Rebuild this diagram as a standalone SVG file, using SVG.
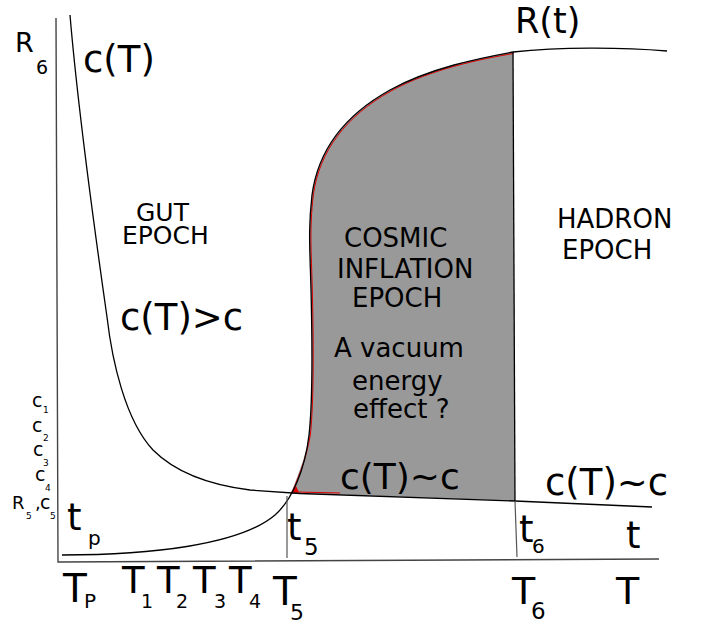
<svg xmlns="http://www.w3.org/2000/svg" width="705" height="627" viewBox="0 0 705 627">
<style>
text{font-family:"DejaVu Sans","Liberation Sans",sans-serif;fill:#000}
.big{font-size:37px}
.mid{font-size:26px}
.sub{font-size:20px}
.cl{font-size:19px}
.tiny{font-size:9px}
.axis{fill:none;stroke:#444;stroke-width:1.4}
.curve{fill:none;stroke:#000;stroke-width:1.3}
.vline{fill:none;stroke:#555;stroke-width:1.2}
</style>
<rect width="705" height="627" fill="#fff"/>
<g id="inflation-region">
<path d="M290,494 L293,488 C300,470 306,455 309,435 C313,400 312,330 311,290 C310,250 308,230 312,195 C318,150 345,115 390,90 C430,68 480,58 513,52 L515,501 L300,493 Z" fill="#999"/>
<path d="M291.5,494 C301,471 307,455 310.3,435 C314.3,400 313.3,330 312.3,290 C311.3,250 309.3,230 313.3,195 C319.3,151 346,116 391,91 C431,69 481,59 513.5,53.5" fill="none" stroke="#e00000" stroke-width="1"/>
<path d="M291,493 L296,486 L299,492.5 Z" fill="#e00000"/>
<path d="M297,492 L340,493" fill="none" stroke="#e00000" stroke-width="1"/>
</g>
<g id="connectors">
<path class="axis" d="M56,18 L58,562 L659,559"/>
<path class="curve" d="M62,555 C150,555 240,545 275,515 C292,500 305,470 309,435 C313,400 312,330 311,290 C310,250 308,230 312,195 C318,150 345,115 390,90 C430,68 480,58 513,52 C560,47 620,47 667,51"/>
<path class="curve" d="M70,15 C78,110 96,240 107,317 C112,360 125,420 153,450 C175,472 210,485 250,490 L300,493.5 L515,501 L652,507"/>
<path class="vline" d="M287,496 L287,558"/>
<path class="curve" d="M513,52 L515,501"/>
<path class="vline" d="M515,501 L517,557"/>
</g>
<g id="y-labels">
<text x="15" y="52" style="font-size:27px">R<tspan x="36" y="74" style="font-size:19px">6</tspan></text>
<text x="32" y="407" class="cl">c<tspan x="43" y="413" class="tiny">1</tspan></text>
<text x="32" y="432" class="cl">c<tspan x="43" y="441" class="tiny">2</tspan></text>
<text x="33" y="456" class="cl">c<tspan x="43" y="466" class="tiny">3</tspan></text>
<text x="35" y="481" class="cl">c<tspan x="45" y="491" class="tiny">4</tspan></text>
<text x="12" y="509" style="font-size:18px">R<tspan x="26" y="519" class="tiny">5</tspan><tspan x="35" y="509">,</tspan><tspan x="40" y="509" class="cl">c</tspan><tspan x="50" y="519" class="tiny">5</tspan></text>
</g>
<g id="curve-labels">
<text x="83" y="72" class="big">c(T)</text>
<text x="515" y="33" style="font-size:35px">R(t)</text>
</g>
<g id="gut-epoch">
<text x="136" y="221" style="font-size:25px">GUT</text>
<text x="122" y="244" style="font-size:25px">EPOCH</text>
<text x="120" y="330" class="big">c(T)&gt;c</text>
</g>
<g id="cosmic-inflation-epoch">
<text x="344" y="247" class="mid">COSMIC</text>
<text x="337" y="278" class="mid">INFLATION</text>
<text x="352" y="307" class="mid">EPOCH</text>
<text x="334" y="357" class="mid">A vacuum</text>
<text x="352" y="390" class="mid">energy</text>
<text x="353" y="418" class="mid">effect ?</text>
<text x="340" y="489" style="font-size:36px">c(T)~c</text>
</g>
<g id="hadron-epoch">
<text x="557" y="228" class="mid">HADRON</text>
<text x="562" y="259" class="mid">EPOCH</text>
<text x="545" y="495" class="big">c(T)~c</text>
</g>
<g id="t-labels">
<text x="67" y="530" class="big">t<tspan x="88" y="545" class="sub">p</tspan></text>
<text x="287" y="540" class="big">t<tspan x="304" y="555" style="font-size:23px">5</tspan></text>
<text x="519" y="542" class="big">t<tspan x="532" y="553" class="sub">6</tspan></text>
<text x="626" y="548" class="big">t</text>
</g>
<g id="T-labels">
<text x="63" y="602" style="font-size:39px">T<tspan x="84" y="608" class="sub">P</tspan></text>
<text x="122" y="593" class="big">T<tspan x="141" y="608" style="font-size:19px">1</tspan></text>
<text x="157" y="593" class="big">T<tspan x="176" y="608" style="font-size:19px">2</tspan></text>
<text x="193" y="593" class="big">T<tspan x="214" y="608" style="font-size:19px">3</tspan></text>
<text x="229" y="593" class="big">T<tspan x="249" y="608" style="font-size:19px">4</tspan></text>
<text x="273" y="605" style="font-size:39px">T<tspan x="290" y="620" style="font-size:22px">5</tspan></text>
<text x="512" y="604" style="font-size:38px">T<tspan x="531" y="619" style="font-size:23px">6</tspan></text>
<text x="616" y="604" style="font-size:38px">T</text>
</g>
</svg>
